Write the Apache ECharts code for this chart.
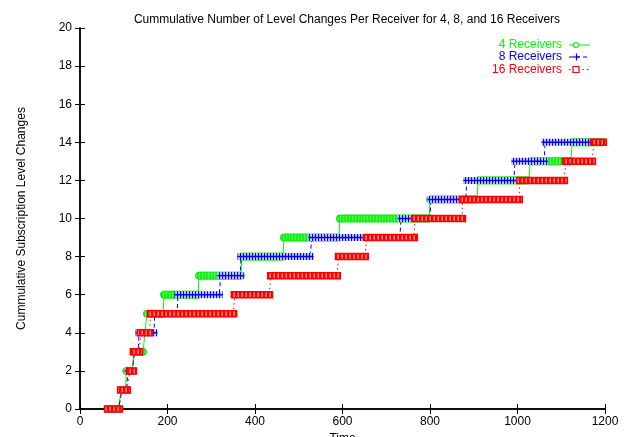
<!DOCTYPE html>
<html><head><meta charset="utf-8">
<script src="https://cdn.jsdelivr.net/npm/echarts@6/dist/echarts.min.js"></script>
<style>html,body{margin:0;padding:0;background:#fff}#c{width:624px;height:437px}</style>
</head><body><div id="c"></div>
<script>
// ---- data ----
const titleText = 'Cummulative Number of Level Changes Per Receiver for 4, 8, and 16 Receivers';
const xName = 'Time';
const yName = 'Cummulative Subscription Level Changes';
const seriesNames = ['4 Receivers', '8 Receivers', '16 Receivers'];
const xTicks = [0, 200, 400, 600, 800, 1000, 1200];
const yTicks = [0, 2, 4, 6, 8, 10, 12, 14, 16, 18, 20];

// 4 receivers: plateau level, start time, end time
const levels4 = [0, 1, 2, 3, 5, 6, 7, 8, 9, 10, 11, 12, 13, 14];
const start4  = [66, 95, 106, 126, 153, 192, 272, 370, 466, 594, 800, 910, 1029, 1125];
const end4    = [87, 104, 117, 144, 190, 270, 368, 464, 592, 798, 907, 1026, 1122, 1195];

// 8 receivers
const levels8 = [0, 1, 2, 3, 4, 5, 6, 7, 8, 9, 10, 11, 12, 13, 14];
const start8  = [66, 96, 110, 124, 135, 171, 224, 322, 368, 530, 734, 802, 884, 994, 1063];
const end8    = [88, 106, 120, 133, 169, 222, 318, 366, 526, 731, 800, 882, 992, 1061, 1195];

// 16 receivers
const levels16 = [0, 1, 2, 3, 4, 5, 6, 7, 8, 9, 10, 11, 12, 13, 14];
const start16  = [64, 94, 114, 123, 139, 162, 354, 437, 592, 656, 766, 875, 1006, 1111, 1175];
const end16    = [89, 107, 121, 135, 158, 350, 432, 587, 651, 763, 873, 1003, 1106, 1170, 1195];

// ---- helpers ----
const FONT = 'Liberation Sans, Arial, Helvetica, sans-serif';
function pattern(w, h, cols) {
  const c = document.createElement('canvas'); c.width = w; c.height = h;
  const g = c.getContext('2d');
  for (let i = 0; i < w; i++) { g.fillStyle = cols[i % cols.length]; g.fillRect(i, 0, 1, h); }
  return { image: c, repeat: 'repeat' };
}
const greenPat = pattern(3, 8, ['#00ff00', '#66ff66', '#22ee22']);
const bluePat = pattern(3, 8, ['#0000ff', '#b4b4ff', '#c8c8ff']);
const redPat = pattern(4, 8, ['#ff0000', '#ff5050', '#ff8080', '#ff0000']);

function stepLine(lv, st, en) {
  const d = [];
  for (let i = 0; i < lv.length; i++) { d.push([st[i], lv[i]]); d.push([en[i], lv[i]]); }
  return d;
}
function bands(lv, st, en) { return lv.map((l, i) => [st[i], en[i], l]); }

function bandRenderer(kind) {
  return function (params, api) {
    const s = api.coord([api.value(0), api.value(2)]);
    const e = api.coord([api.value(1), api.value(2)]);
    const x = s[0] - 3.5, w = e[0] - s[0] + 7;
    if (kind === 'green') {
      return { type: 'rect', shape: { x: x, y: s[1] - 3.5, width: w, height: 7, r: 3.5 },
        style: { fill: greenPat, stroke: '#00e000', lineWidth: 1 } };
    }
    if (kind === 'blue') {
      return { type: 'group', children: [
        { type: 'rect', shape: { x: x, y: s[1] - 3.5, width: w, height: 7 }, style: { fill: bluePat } },
        { type: 'line', shape: { x1: x, y1: s[1], x2: x + w, y2: s[1] }, style: { stroke: '#0000ff', lineWidth: 1.5 } }
      ] };
    }
    return { type: 'rect', shape: { x: x, y: s[1] - 3, width: w, height: 6 },
      style: { fill: redPat, stroke: '#ff0000', lineWidth: 1.5 } };
  };
}

const axisCommon = {
  type: 'value', splitLine: { show: false },
  axisLine: { show: true, lineStyle: { color: '#000', width: 1.5 } },
  axisTick: { show: true, inside: true, length: 5, lineStyle: { color: '#000', width: 1 } },
  axisLabel: { color: '#000', fontSize: 12, fontFamily: FONT, formatter: v => String(v) }
};

const chart = echarts.init(document.getElementById('c'), null, { renderer: 'canvas' });
chart.setOption({
  animation: false,
  backgroundColor: '#fff',
  title: { text: titleText, left: 342, top: 9, textAlign: 'center',
    textStyle: { fontSize: 12, fontWeight: 'normal', color: '#000', fontFamily: FONT } },
  grid: { left: 80, right: 19, top: 28, bottom: 28, containLabel: false, outerBoundsMode: 'none' },
  xAxis: [
    Object.assign({}, axisCommon, { min: xTicks[0], max: xTicks[xTicks.length - 1], interval: xTicks[1] - xTicks[0],
      position: 'bottom', name: xName, nameLocation: 'middle', nameGap: 17,
      nameTextStyle: { color: '#000', fontSize: 12, fontFamily: FONT },
      axisLabel: Object.assign({}, axisCommon.axisLabel, { margin: 7 }) }),
    Object.assign({}, axisCommon, { min: xTicks[0], max: xTicks[xTicks.length - 1], interval: xTicks[1] - xTicks[0],
      position: 'top', axisLabel: { show: false } })
  ],
  yAxis: [
    Object.assign({}, axisCommon, { min: yTicks[0], max: yTicks[yTicks.length - 1], interval: yTicks[1] - yTicks[0],
      position: 'left', name: yName, nameLocation: 'middle', nameGap: 52, nameRotate: 90,
      nameTextStyle: { color: '#000', fontSize: 12, fontFamily: FONT },
      axisLabel: Object.assign({}, axisCommon.axisLabel, { margin: 8 }) }),
    Object.assign({}, axisCommon, { min: yTicks[0], max: yTicks[yTicks.length - 1], interval: yTicks[1] - yTicks[0],
      position: 'right', axisLabel: { show: false } })
  ],
  series: [
    { name: seriesNames[0], type: 'line', data: stepLine(levels4, start4, end4), symbol: 'none', z: 2,
      lineStyle: { color: '#00ff00', width: 1 } },
    { name: seriesNames[0] + ' pts', type: 'custom', data: bands(levels4, start4, end4), z: 3,
      encode: { x: [0, 1], y: 2 }, renderItem: bandRenderer('green') },
    { name: seriesNames[1], type: 'line', data: stepLine(levels8, start8, end8), symbol: 'none', z: 4,
      lineStyle: { color: '#0000ff', width: 1, type: [4, 3] } },
    { name: seriesNames[1] + ' pts', type: 'custom', data: bands(levels8, start8, end8), z: 5,
      encode: { x: [0, 1], y: 2 }, renderItem: bandRenderer('blue') },
    { name: seriesNames[2], type: 'line', data: stepLine(levels16, start16, end16), symbol: 'none', z: 6,
      lineStyle: { color: '#ff0000', width: 1, type: [1.5, 3] } },
    { name: seriesNames[2] + ' pts', type: 'custom', data: bands(levels16, start16, end16), z: 7,
      encode: { x: [0, 1], y: 2 }, renderItem: bandRenderer('red') }
  ],
  graphic: [
    { type: 'text', x: 562, y: 45, style: { text: seriesNames[0], fill: '#00ff00', font: '12px ' + FONT, align: 'right', verticalAlign: 'middle' } },
    { type: 'text', x: 562, y: 57, style: { text: seriesNames[1], fill: '#0000ff', font: '12px ' + FONT, align: 'right', verticalAlign: 'middle' } },
    { type: 'text', x: 562, y: 69.5, style: { text: seriesNames[2], fill: '#ff0000', font: '12px ' + FONT, align: 'right', verticalAlign: 'middle' } },
    { type: 'line', shape: { x1: 569, y1: 45, x2: 590, y2: 45 }, style: { stroke: '#00ff00', lineWidth: 1 } },
    { type: 'circle', shape: { cx: 576, cy: 45, r: 2.5 }, style: { stroke: '#00ff00', fill: '#fff', lineWidth: 1.2 } },
    { type: 'line', shape: { x1: 569, y1: 57, x2: 590, y2: 57 }, style: { stroke: '#0000ff', lineWidth: 1, lineDash: [4, 3] } },
    { type: 'line', shape: { x1: 573, y1: 57, x2: 580, y2: 57 }, style: { stroke: '#0000ff', lineWidth: 1.2 } },
    { type: 'line', shape: { x1: 576.5, y1: 53.5, x2: 576.5, y2: 60.5 }, style: { stroke: '#0000ff', lineWidth: 1.2 } },
    { type: 'line', shape: { x1: 569, y1: 69.5, x2: 590, y2: 69.5 }, style: { stroke: '#ff0000', lineWidth: 1, lineDash: [1.5, 3] } },
    { type: 'rect', shape: { x: 573, y: 66.5, width: 6, height: 6 }, style: { stroke: '#ff0000', fill: '#fff', lineWidth: 1.2 } }
  ]
});
</script>
</body></html>
